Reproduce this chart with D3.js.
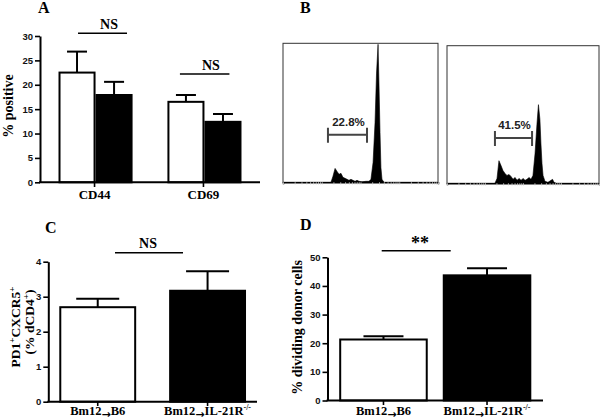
<!DOCTYPE html>
<html><head><meta charset="utf-8">
<script src="https://cdn.jsdelivr.net/npm/d3@7"></script>
<style>body{margin:0;background:#fff}svg{display:block}</style>
</head><body><svg id="c" width="600" height="420"></svg>
<script>
// ---------- DATA ----------
// Panel A
const aCategories = ["CD44", "CD69"];
const aWhiteMean = [22.5, 16.5];
const aWhiteSem  = [4.3, 1.4];
const aBlackMean = [17.9, 12.4];
const aBlackSem  = [2.7, 1.6];
const aYTicks = [0, 5, 10, 15, 20, 25, 30];
const aSig = ["NS", "NS"];
// Panel B (CFSE histograms: channel, count)
const h1Channel = [317,330,344,357,370,383,396,410,423,436,449,462,476,489,502,522,548,568,581,595,608,618,628,634,641,647,654,667];
const h1Count   = [0,6,14,11,8,9,5,4,3,2,3,2,1,2,1,0.5,1,1,3,20,60,110,139,100,50,15,3,0];
const h2Channel = [323,337,350,364,377,391,404,418,431,445,458,472,485,499,512,526,539,552,566,579,593,606,616,626,633,640,647,660,680,701,711,721,734];
const h2Count   = [0,5,23,18,13,10,8,9,7,4,6,3,5,3,5,3,4,6,4,8,30,60,80,65,40,20,8,2,1,3,4,1,0];
const gateRange1 = [297, 555];
const gateRange2 = [323, 573];
const gateLabels = ["22.8%", "41.5%"];
// Panel C
const groups = ["Bm12\u2192B6", "Bm12\u2192IL-21R-/-"];
const cMean = [2.70, 3.17];
const cSem  = [0.24, 0.56];
const cYTicks = [0, 1, 2, 3, 4];
const cSig = "NS";
// Panel D
const dMean = [21.3, 43.7];
const dSem  = [1.1, 2.5];
const dYTicks = [0, 10, 20, 30, 40, 50];
const dSig = "**";

// ---------- DRAW ----------
const svg = d3.select("#c");
const SERIF = "'Liberation Serif','Times New Roman',serif";
const SANS = "'Liberation Sans',Arial,sans-serif";

function panelLabel(t, x, y, size) {
  svg.append("text").attr("x", x).attr("y", y).text(t)
    .attr("font-family", SERIF).attr("font-weight", "bold").attr("font-size", size);
}

function yAxis(g, y, ticks) {
  const ax = d3.axisLeft(y).tickValues(ticks).tickFormat(d3.format("d"))
    .tickSize(5).tickPadding(2).tickSizeOuter(0);
  g.call(ax);
  g.select(".domain").attr("stroke", "#000").attr("stroke-width", 2);
  g.selectAll(".tick line").attr("stroke", "#000").attr("stroke-width", 1.6);
  g.selectAll(".tick text").attr("font-family", SANS).attr("font-weight", "bold")
    .attr("font-size", 9.5).attr("fill", "#111");
}

function xLine(x0, x1, yy) {
  svg.append("line").attr("x1", x0).attr("x2", x1).attr("y1", yy).attr("y2", yy)
    .attr("stroke", "#000").attr("stroke-width", 2);
}

function bar(x, w, y, v, sem, fill, capW) {
  const y0 = y(0), yt = y(v), ye = y(v + sem);
  const cx = x + w / 2;
  svg.append("line").attr("x1", cx).attr("x2", cx).attr("y1", yt).attr("y2", ye)
    .attr("stroke", "#000").attr("stroke-width", 2);
  svg.append("line").attr("x1", cx - capW / 2).attr("x2", cx + capW / 2).attr("y1", ye).attr("y2", ye)
    .attr("stroke", "#000").attr("stroke-width", 2);
  svg.append("rect").attr("x", x + 1).attr("y", yt).attr("width", w - 2).attr("height", y0 - yt)
    .attr("fill", fill).attr("stroke", "#000").attr("stroke-width", 2);
}

function sigMark(text, x0, x1, ly, tx, ty, size, font) {
  svg.append("line").attr("x1", x0).attr("x2", x1).attr("y1", ly).attr("y2", ly)
    .attr("stroke", "#000").attr("stroke-width", 1.6);
  svg.append("text").attr("x", tx).attr("y", ty).attr("text-anchor", "middle").text(text)
    .attr("font-family", font || SERIF).attr("font-weight", "bold").attr("font-size", size);
}

function groupLabel(label, cx, by) {
  const t = svg.append("text").attr("x", cx).attr("y", by).attr("text-anchor", "middle")
    .attr("font-family", SERIF).attr("font-weight", "bold").attr("font-size", 12.5);
  const parts = label.split("\u2192");
  t.append("tspan").text(parts[0]);
  t.append("tspan").text("\u2192").attr("font-family", "'DejaVu Sans',sans-serif")
    .attr("font-size", 11).attr("dy", 2.5);
  const m = parts[1].match(/^(.*?)(-\/-)?$/);
  t.append("tspan").text(m[1]).attr("dy", -2.5);
  if (m[2]) t.append("tspan").text(m[2]).attr("font-size", 8).attr("dy", -5);
}

// ===== Panel A =====
panelLabel("A", 38, 12.5, 16);
{
  const y = d3.scaleLinear().domain([0, 30]).range([182.3, 36]);
  const x = d3.scaleBand().domain(aCategories).range([40, 260]).paddingInner(0.32).paddingOuter(0.17);
  const xs = d3.scaleBand().domain(["w", "b"]).range([0, x.bandwidth()]);
  aCategories.forEach((c, i) => {
    bar(x(c) + xs("w"), xs.bandwidth(), y, aWhiteMean[i], aWhiteSem[i], "#fff", 20);
    bar(x(c) + xs("b"), xs.bandwidth(), y, aBlackMean[i], aBlackSem[i], "#000", 20);
    const cx = x(c) + x.bandwidth() / 2;
    svg.append("line").attr("x1", cx - 1).attr("x2", cx - 1).attr("y1", 182.3).attr("y2", 187)
      .attr("stroke", "#000").attr("stroke-width", 1.6);
    svg.append("text").attr("x", cx - 1).attr("y", 199).attr("text-anchor", "middle").text(c)
      .attr("font-family", SERIF).attr("font-weight", "bold").attr("font-size", 13);
  });
  xLine(39, 260, y(0));
  yAxis(svg.append("g").attr("transform", "translate(40,0)"), y, aYTicks);
  const b0 = x(aCategories[0]), b1 = x(aCategories[1]);
  sigMark(aSig[0], b0 + 19.5, b0 + 68.5, 33.3, b0 + 50.5, 28.5, 14);
  sigMark(aSig[1], b1 + 12.5, b1 + 62, 74, b1 + 43.5, 70, 14);
  svg.append("text").attr("transform", "translate(12.5,106) rotate(-90)").attr("text-anchor", "middle")
    .text("% positive").attr("font-family", SERIF).attr("font-weight", "bold").attr("font-size", 14);
}

// ===== Panel B =====
panelLabel("B", 300, 13, 16);
function histo(box, ch, cnt, gate, label) {
  const [x0, x1, top, bot] = box;
  const x = d3.scaleLinear().domain([0, 1024]).range([x0, x1]);
  const y = d3.scaleLinear().domain([0, 140]).range([bot, top]);
  svg.append("rect").attr("x", x0).attr("y", top).attr("width", x1 - x0).attr("height", bot - top)
    .attr("fill", "#fff").attr("stroke", "#333").attr("stroke-width", 1);
  const pts = ch.map((c, i) => [c, cnt[i]]);
  svg.append("path").datum(pts)
    .attr("d", d3.area().x(d => x(d[0])).y0(y(0)).y1(d => y(d[1])))
    .attr("fill", "#000").attr("stroke", "#000").attr("stroke-width", 0.6);
  const lx = d3.scaleLog().domain([1, 10000]).range([x0, x1]);
  const g = svg.append("g").attr("transform", `translate(0,${bot})`)
    .call(d3.axisBottom(lx).tickSize(2).tickFormat(""));
  g.selectAll("line").attr("stroke", "#bbb");
  g.select(".domain").attr("stroke", "#000").attr("stroke-width", 1.5);
  const gy = y(gate[2]);
  svg.append("path")
    .attr("d", `M${x(gate[0])},${gy - 7}V${gy + 8}M${x(gate[0])},${gy}H${x(gate[1])}M${x(gate[1])},${gy - 7}V${gy + 8}`)
    .attr("stroke", "#444").attr("stroke-width", 2).attr("fill", "none");
  svg.append("text").attr("x", (x(gate[0]) + x(gate[1])) / 2 + 1).attr("y", gy - 9)
    .attr("text-anchor", "middle").text(label)
    .attr("font-family", SANS).attr("font-weight", "bold").attr("font-size", 11.5).attr("fill", "#222");
}
histo([283, 438, 43.3, 182.3], h1Channel, h1Count, [gateRange1[0], gateRange1[1], 48], gateLabels[0]);
histo([447, 599, 45.7, 183.3], h2Channel, h2Count, [gateRange2[0], gateRange2[1], 46], gateLabels[1]);

// ===== Panel C =====
panelLabel("C", 45, 233, 16);
{
  const y = d3.scaleLinear().domain([0, 4]).range([401.7, 261.7]);
  const x = d3.scaleBand().domain(groups).range([48.3, 257]).paddingInner(0.3).paddingOuter(0.1);
  groups.forEach((gname, i) => {
    bar(x(gname), x.bandwidth(), y, cMean[i], cSem[i], i === 0 ? "#fff" : "#000", 43);
    const cx = x(gname) + x.bandwidth() / 2;
    svg.append("line").attr("x1", cx).attr("x2", cx).attr("y1", 401.7).attr("y2", 406)
      .attr("stroke", "#000").attr("stroke-width", 1.6);
    groupLabel(gname, cx, 415);
  });
  xLine(47.3, 257, y(0));
  yAxis(svg.append("g").attr("transform", "translate(48.3,0)"), y, cYTicks);
  sigMark(cSig, 115, 183, 252.7, 148, 247.5, 14);
  const t1 = svg.append("text").attr("transform", "translate(20,327) rotate(-90)").attr("text-anchor", "middle")
    .attr("font-family", SERIF).attr("font-weight", "bold").attr("font-size", 13.5);
  t1.append("tspan").text("PD1");
  t1.append("tspan").text("+").attr("font-size", 9).attr("dy", -5);
  t1.append("tspan").text("CXCR5").attr("dy", 5);
  t1.append("tspan").text("+").attr("font-size", 9).attr("dy", -5);
  const t2 = svg.append("text").attr("transform", "translate(34,322) rotate(-90)").attr("text-anchor", "middle")
    .attr("font-family", SERIF).attr("font-weight", "bold").attr("font-size", 13.5);
  t2.append("tspan").text("(% dCD4");
  t2.append("tspan").text("+").attr("font-size", 9).attr("dy", -5);
  t2.append("tspan").text(")").attr("dy", 5);
}

// ===== Panel D =====
panelLabel("D", 300, 230, 16);
{
  const y = d3.scaleLinear().domain([0, 50]).range([400.5, 257.3]);
  const x = d3.scaleBand().domain(groups).range([327.5, 543]).paddingInner(0.145).paddingOuter(0.113);
  groups.forEach((gname, i) => {
    bar(x(gname), x.bandwidth(), y, dMean[i], dSem[i], i === 0 ? "#fff" : "#000", 40);
    const cx = x(gname) + x.bandwidth() / 2;
    svg.append("line").attr("x1", cx).attr("x2", cx).attr("y1", 400.5).attr("y2", 405)
      .attr("stroke", "#000").attr("stroke-width", 1.6);
    groupLabel(gname, cx, 415);
  });
  xLine(326.5, 543, y(0));
  yAxis(svg.append("g").attr("transform", "translate(327.5,0)"), y, dYTicks);
  sigMark(dSig, 381.7, 450.7, 250.7, 420, 249, 18);
  svg.append("text").attr("transform", "translate(301.5,327.5) rotate(-90)").attr("text-anchor", "middle")
    .text("% dividing donor cells").attr("font-family", SERIF).attr("font-weight", "bold").attr("font-size", 14);
}
</script></body></html>
